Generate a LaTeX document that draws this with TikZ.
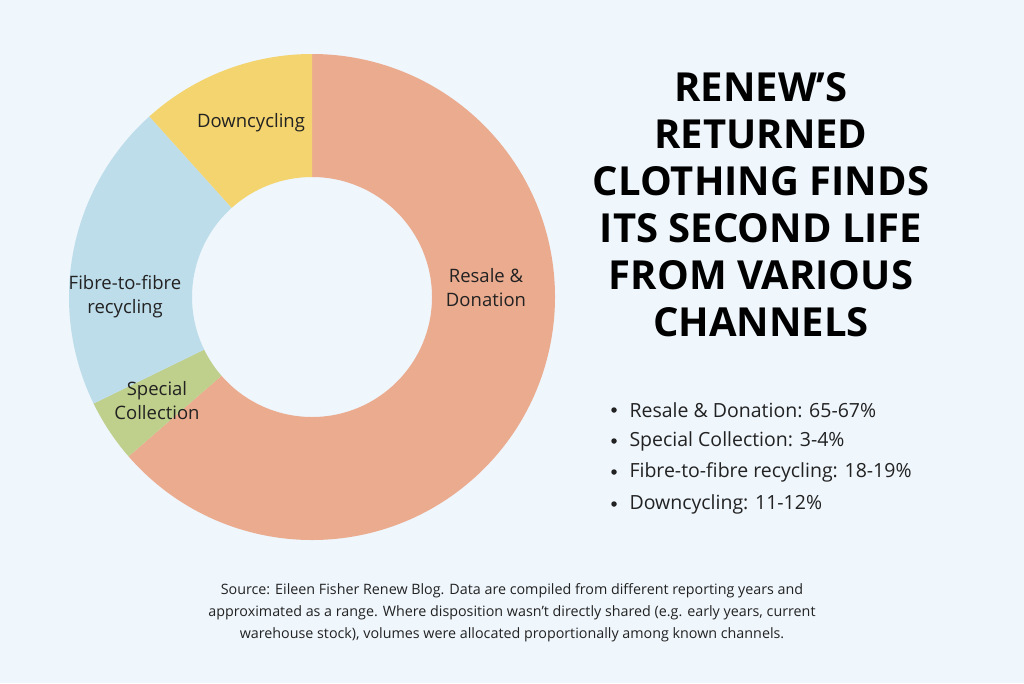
\documentclass[tikz,border=0pt]{standalone}
\usepackage{fontspec}
\setmainfont{Open Sans}
\usetikzlibrary{calc}
\definecolor{bg}{HTML}{EFF6FC}
\definecolor{cres}{HTML}{EBAB8F}
\definecolor{cspe}{HTML}{BFCF8C}
\definecolor{cfib}{HTML}{BEDDEB}
\definecolor{cdow}{HTML}{F3D46E}
\definecolor{ink}{HTML}{222222}
\begin{document}
\begin{tikzpicture}[x=1pt,y=-1pt,
  lab/.style={text=ink,font=\fontsize{18.5}{24}\selectfont,align=center},
  leg/.style={text=ink,font=\fontsize{19.5}{22}\selectfont,anchor=west},
  dot/.style={circle,fill=ink,inner sep=0pt,minimum size=5.5pt}]
\fill[bg] (0,0) rectangle (1024,683);
\useasboundingbox (0,0) rectangle (1024,683);
\coordinate (c) at (312,297);
\def\R{243}\def\r{120}
\newcommand{\ring}[3]{\fill[#1] ($(c)+({cos(#2)*\R},{-sin(#2)*\R})$) arc[start angle=-#2,end angle=-#3,radius=\R] -- ($(c)+({cos(#3)*\r},{-sin(#3)*\r})$) arc[start angle=-#3,end angle=-#2,radius=\r] -- cycle;}
\ring{cres}{-139}{90}
\ring{cspe}{206}{221}
\ring{cfib}{132}{206}
\ring{cdow}{90}{132}
\node[lab] (l1) at (486,288) {Resale \&\\Donation};
\node[lab] (l2) at (251,123) {Downcycling};
\node[lab] (l3) at (125,297) {Fibre-to-fibre\\recycling};
\node[lab] (l4) at (157,401) {Special\\Collection};
\node[text=black,font=\bfseries\fontsize{40}{47}\selectfont,align=center] (t) at (761,205)
 {RENEW’S\\RETURNED\\CLOTHING FINDS\\ITS SECOND LIFE\\FROM VARIOUS\\CHANNELS};
\foreach \y/\s [count=\i] in {410/{Resale \& Donation: 65-67\%},441/{Special Collection: 3-4\%},472/{Fibre-to-fibre recycling: 18-19\%},504/{Downcycling: 11-12\%}}{
  \node[dot] (d\i) at (614,\y) {};
  \node[leg] (e\i) at (626,\y) {\s};
}
\node[text=ink,font=\fontsize{14.3}{22}\selectfont,align=center] (src) at (512,613)
 {Source: Eileen Fisher Renew Blog. Data are compiled from different reporting years and\\approximated as a range. Where disposition wasn't directly shared (e.g. early years, current\\warehouse stock), volumes were allocated proportionally among known channels.};
\end{tikzpicture}
\end{document}
